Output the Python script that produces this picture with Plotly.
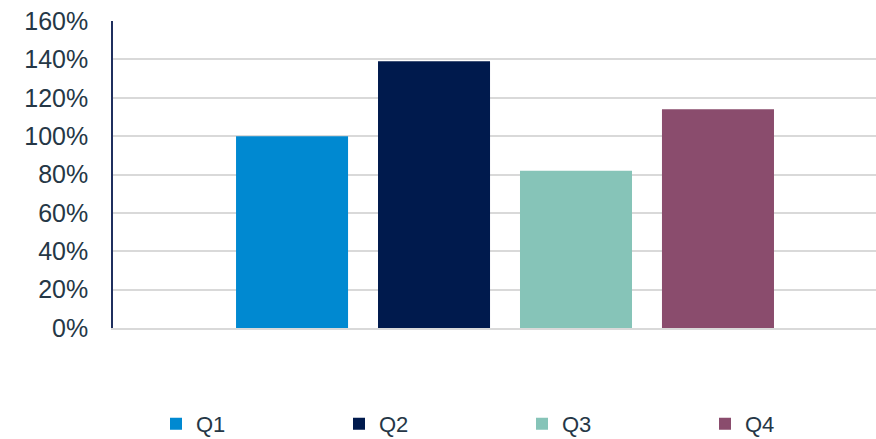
import plotly.graph_objects as go

quarters = ["Q1", "Q2", "Q3", "Q4"]
values = [100, 139, 82, 114]
colors = ["#0089D1", "#001A4D", "#86C4B8", "#8A4C6D"]
y_ticks = [0, 20, 40, 60, 80, 100, 120, 140, 160]
y_tick_labels = [f"{v}%" for v in y_ticks]

fig = go.Figure()
for q, v, c in zip(quarters, values, colors):
    fig.add_trace(go.Bar(x=[q], y=[v], name=q, marker=dict(color=c, line=dict(width=0)),
                         width=0.789))

W, H = 876, 439
ml, mr, mt, mb = 113, 0, 21, 110.5
pw = W - ml - mr
ph = H - mt - mb
fig.update_layout(
    width=W, height=H,
    margin=dict(l=ml, r=mr, t=mt, b=mb, pad=0, autoexpand=False),
    barmode="overlay",
    plot_bgcolor="white", paper_bgcolor="white",
    font=dict(family="Liberation Sans, Arial, sans-serif", color="#253746", size=25),
    showlegend=True,
    legend=dict(orientation="h", x=(156 - ml) / pw, xanchor="left",
                y=-96 / ph, yanchor="middle",
                entrywidth=138, entrywidthmode="pixels",
                font=dict(size=22, color="#253746"), itemsizing="constant"),
    xaxis=dict(range=[-1.261, 4.113], showticklabels=False, ticks="",
               showgrid=False, showline=True, linecolor="#D9D9D9", linewidth=2,
               zeroline=False, fixedrange=True),
    yaxis=dict(range=[0, 160], tickmode="array", tickvals=y_ticks, ticktext=y_tick_labels,
               showgrid=True, gridcolor="#D9D9D9", gridwidth=1.5,
               showline=True, linecolor="#1F2F5E", linewidth=1.5,
               zeroline=False, ticks="", ticklabelstandoff=18,
               tickfont=dict(size=25, color="#253746"), fixedrange=True),
)

fig.write_html("out.html", config={"displayModeBar": False},
               post_script="document.body.style.margin='0';")
